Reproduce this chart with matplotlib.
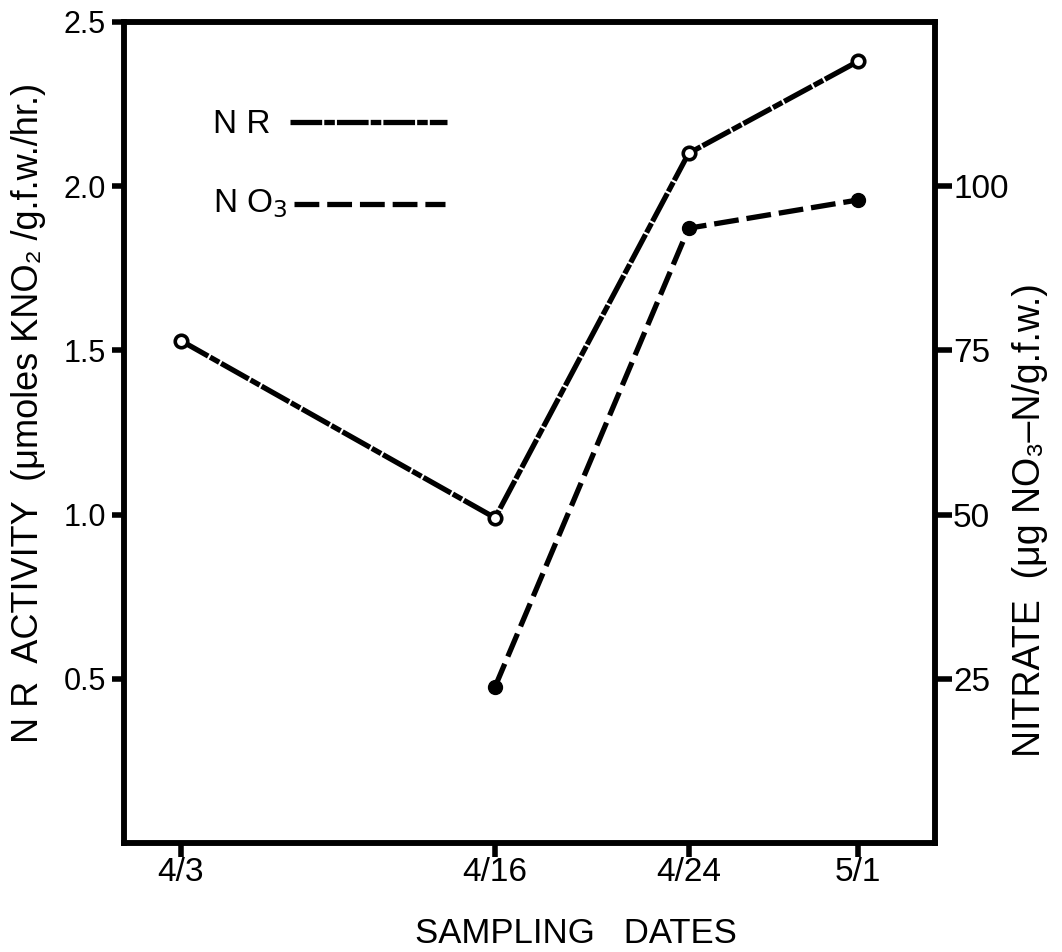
import matplotlib
matplotlib.use("Agg")
import matplotlib.pyplot as plt

# ---------------------------------------------------------
# Data
# ---------------------------------------------------------
date_labels = ['4/3', '4/16', '4/24', '5/1']
days = [0, 13, 21, 28]                 # days after 4/3

nr_days = [0, 13, 21, 28]
nr_activity = [1.53, 0.99, 2.10, 2.38]  # umoles KNO2 / g.f.w. / hr

no3_days = [13, 21, 28]
no3_nitrate = [23.8, 93.6, 97.9]        # ug NO3-N / g.f.w.

left_ticks = [0.5, 1.0, 1.5, 2.0, 2.5]
right_ticks = [25, 50, 75, 100]

plt.rcParams['font.family'] = ['Liberation Sans', 'DejaVu Sans']

fig = plt.figure(figsize=(10.62, 9.52), dpi=100)
ax = fig.add_axes([0.1168, 0.1145, 0.7637, 0.8624])
ax2 = ax.twinx()

lw = 3.8
nr_dash = (6, 0.4, 2, 0.4)
no3_dash = (4.7, 1.5)
ax.plot(nr_days, nr_activity, color='black', lw=lw, dashes=nr_dash,
        marker='o', ms=9, mfc='white', mec='black', mew=2.6)
ax2.plot(no3_days, no3_nitrate, color='black', lw=lw, dashes=no3_dash,
         marker='o', ms=10, mfc='black', mec='black')

ax.set_xlim(-2.34, 31.19)
ax.set_ylim(0, 2.5)
ax2.set_ylim(0, 125)

ax.set_xticks(days)
ax.set_xticklabels(date_labels, fontsize=24)
ax.set_yticks(left_ticks)
ax.set_yticklabels([f'{v:.1f}' for v in left_ticks], fontsize=22)
ax2.set_yticks(right_ticks)
ax2.set_yticklabels([str(v) for v in right_ticks], fontsize=24)

for a in (ax, ax2):
    for s in a.spines.values():
        s.set_linewidth(4)
ax.tick_params(axis='y', direction='out', length=9, width=4, pad=4)
ax.tick_params(axis='x', direction='out', length=10, width=4, pad=0)
ax2.tick_params(axis='y', direction='out', length=12, width=4, pad=1)

# legend drawn by hand, as in the original
ax.text(0.11, 0.875, 'N R', transform=ax.transAxes, fontsize=24,
        va='center', ha='left')
ax.plot([0.205, 0.398], [0.878, 0.878], transform=ax.transAxes,
        color='black', lw=lw, dashes=nr_dash)
ax.text(0.11, 0.779, 'N O$_3$', transform=ax.transAxes, fontsize=24,
        va='center', ha='left')
ax.plot([0.21, 0.396], [0.778, 0.778], transform=ax.transAxes,
        color='black', lw=lw, dashes=no3_dash)

fig.text(0.542, 0.0095, 'SAMPLING   DATES', fontsize=25,
         ha='center', va='baseline')
fig.text(0.027, 0.566, 'N R  ACTIVITY  (\u03bcmoles KNO\u2082 /g.f.w./hr.)',
         rotation=90, fontsize=26, ha='center', va='center')
fig.text(0.970, 0.454, 'NITRATE  (\u03bcg NO\u2083\u2013N/g.f.w.)',
         rotation=90, fontsize=27, ha='center', va='center')

fig.savefig('out.png', dpi=100)
